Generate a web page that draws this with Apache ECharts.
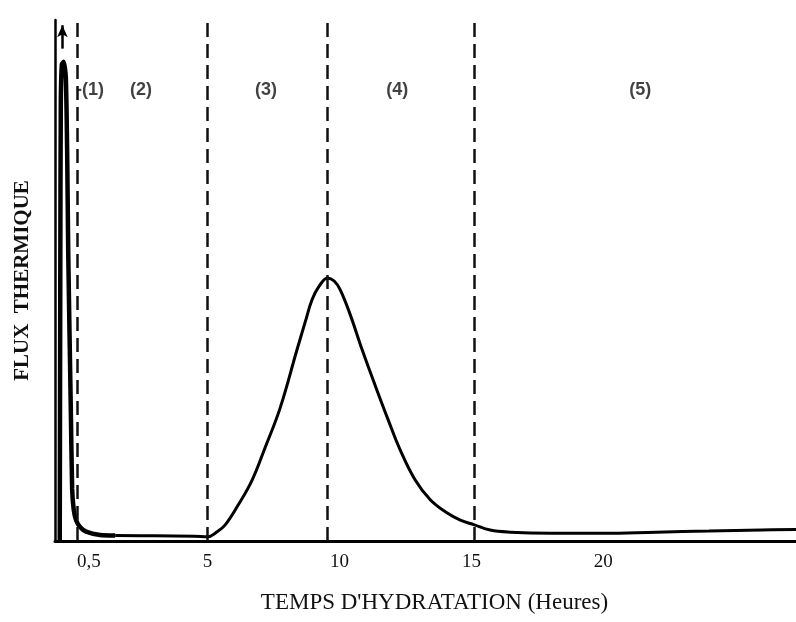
<!DOCTYPE html>
<html>
<head>
<meta charset="utf-8">
<script src="https://cdn.jsdelivr.net/npm/echarts@6/dist/echarts.min.js"></script>
<style>
  html, body { margin: 0; background: #fff; }
  #chart { width: 796px; height: 622px; }
</style>
</head>
<body>
<div id="chart"></div>
<script>
// initial exotherm spike (hours, arbitrary flux units)
const spikeHours = [-0.6, -0.58, -0.56, -0.52, -0.45, -0.37, -0.32, -0.28, -0.23, -0.18, -0.13, -0.07, 0.02, 0.17, 0.4, 0.93, 1.5];
const spikeFlux = [0, 50, 84, 91.5, 92, 89, 75, 56, 40, 25, 10, 6, 4, 2.7, 1.8, 1.15, 1.05];
// dormant period, main peak and tail
const curveHours = [1.5, 3, 4.5, 5.02, 5.29, 5.67, 6.16, 6.69, 7.18, 7.75, 8.39, 8.7, 8.96, 9.23, 9.55, 9.8, 10.03, 10.41, 10.86, 11.35, 11.85, 12.3, 12.87, 13.44, 14.01, 14.58, 15.11, 15.71, 16.47, 18, 20, 22, 24, 26, 27.3];
const curveFlux = [1.05, 1.0, 0.9, 0.8, 1.5, 3.1, 6.9, 11.7, 17.9, 25.5, 36.7, 42.0, 46.3, 48.9, 50.5, 49.9, 48.2, 43.4, 36.7, 29.9, 23.2, 17.5, 11.7, 7.9, 5.6, 4.0, 3.1, 2.1, 1.7, 1.5, 1.5, 1.7, 1.9, 2.1, 2.2];
// stage boundaries
const boundaries = [0.05, 5, 9.55, 15.1];
const tickValues = [0.5, 5, 10, 15, 20];
const stageNames = ['-(1)', '(2)', '(3)', '(4)', '(5)'];
const stageHours = [0.55, 2.48, 7.22, 12.19, 21.4];
const stageFlux = [86.6, 86.6, 86.6, 86.6, 86.6];
// off-scale arrow above the spike
const arrowHour = -0.5;
const arrowFrom = 94.5;
const arrowTo = 99;

const zip = (xs, ys) => xs.map((x, i) => [x, ys[i]]);

const chart = echarts.init(document.getElementById('chart'));
chart.setOption({
  animation: false,
  grid: { left: 55, right: 0, top: 20, bottom: 81 },
  xAxis: {
    type: 'value', min: -0.78, max: 27.3,
    name: "TEMPS D'HYDRATATION (Heures)", nameLocation: 'middle', nameGap: 50,
    nameTextStyle: { fontFamily: 'Liberation Serif', fontSize: 23, color: '#111', padding: [0, 0, 0, 18] },
    axisLine: { onZero: false, lineStyle: { color: '#000', width: 3 } },
    axisTick: { show: false },
    splitLine: { show: false },
    axisLabel: {
      customValues: tickValues, margin: 12,
      fontFamily: 'Liberation Serif', fontSize: 19, color: '#111',
      formatter: (v) => String(v).replace('.', ',')
    }
  },
  yAxis: {
    type: 'value', min: 0, max: 100,
    name: 'FLUX  THERMIQUE', nameLocation: 'middle', nameGap: 22,
    nameTextStyle: { fontFamily: 'Liberation Serif', fontSize: 21, fontWeight: 'bold', color: '#111' },
    axisLine: { show: true, onZero: false, lineStyle: { color: '#000', width: 2.5 } },
    axisTick: { show: false },
    axisLabel: { show: false },
    splitLine: { show: false }
  },
  series: [
    {
      type: 'line', data: zip(spikeHours, spikeFlux), symbol: 'none', smooth: 0.2,
      lineStyle: { color: '#000', width: 4.5 },
      markLine: {
        silent: true, symbol: ['none', 'arrow'], symbolSize: [8, 12],
        lineStyle: { color: '#000', width: 2.5, type: 'solid' },
        label: { show: false },
        data: [[{ coord: [arrowHour, arrowFrom] }, { coord: [arrowHour, arrowTo] }]]
      }
    },
    {
      type: 'line', data: zip(curveHours, curveFlux), symbol: 'none', smooth: 0.4,
      lineStyle: { color: '#000', width: 3 },
      markLine: {
        silent: true, symbol: 'none',
        lineStyle: { color: '#111', width: 2.5, type: [14, 7] },
        label: { show: false },
        data: boundaries.map((b) => ({ xAxis: b }))
      }
    },
    {
      type: 'scatter', data: zip(stageHours, stageFlux), symbolSize: 0, silent: true,
      label: {
        show: true, position: 'inside',
        formatter: (p) => stageNames[p.dataIndex],
        fontFamily: 'Liberation Sans', fontWeight: 'bold', fontSize: 18, color: '#111'
      }
    }
  ]
});
</script>
</body>
</html>
